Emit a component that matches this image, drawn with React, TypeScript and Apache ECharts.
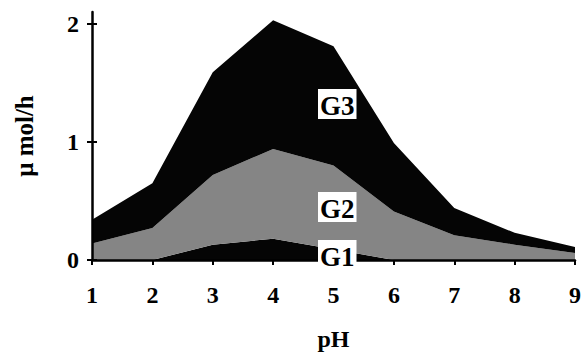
import React, { useEffect, useRef } from "react";
import * as echarts from "echarts";

const phValues = ["1", "2", "3", "4", "5", "6", "7", "8", "9"];
const g1 = [0, 0, 0.13, 0.18, 0.09, 0, 0, 0, 0];
const g2 = [0.14, 0.27, 0.59, 0.76, 0.71, 0.41, 0.21, 0.13, 0.06];
const g3 = [0.2, 0.38, 0.87, 1.09, 1.01, 0.58, 0.23, 0.1, 0.05];
const yTicks = [0, 1, 2];
const seriesNames = ["G1", "G2", "G3"];

const FONT = "Liberation Serif";

export default function App() {
  const ref = useRef<HTMLDivElement>(null);
  useEffect(() => {
    if (!ref.current) return;
    const chart = echarts.init(ref.current, undefined, { renderer: "svg" });
    const colors = ["#050505", "#858585", "#050505"];
    const data = [g1, g2, g3];
    const labelStyle = (text: string, x: number, y: number) => ({
      type: "text",
      left: x,
      top: y,
      z: 100,
      style: {
        text,
        fill: "#000",
        fontFamily: FONT,
        fontWeight: "bold",
        fontSize: 27,
        backgroundColor: "#fff",
        padding: [3, 2, 0, 2],
      },
    });
    const txt = { fontFamily: FONT, fontWeight: "bold" as const, color: "#000" };
    chart.setOption({
      animation: false,
      backgroundColor: "#fff",
      grid: { left: 92, right: 8, top: 12, bottom: 92, outerBoundsMode: "none", containLabel: false },
      xAxis: {
        type: "category",
        data: phValues,
        boundaryGap: false,
        name: "pH",
        nameLocation: "middle",
        nameGap: 67,
        nameTextStyle: { ...txt, fontSize: 24 },
        axisLine: { lineStyle: { color: "#000", width: 2.5 } },
        axisTick: { show: true, length: 5, alignWithLabel: true, lineStyle: { color: "#000", width: 2 } },
        axisLabel: { ...txt, fontSize: 24, margin: 23 },
        splitLine: { show: false },
        z: 10,
      },
      yAxis: [
        {
          type: "value",
          min: 0,
          max: 2.1,
          interval: 1,
          name: "\u03bc mol/h",
          nameLocation: "middle",
          nameRotate: 90,
          nameGap: 55,
          nameTextStyle: { ...txt, fontSize: 25 },
          axisLine: { show: true, lineStyle: { color: "#000", width: 2.5 } },
          axisTick: { show: true, length: 5, customValues: yTicks, lineStyle: { color: "#000", width: 2 } },
          axisLabel: { ...txt, fontSize: 24, margin: 13, customValues: yTicks },
          splitLine: { show: false },
          z: 10,
        },
        {
          type: "value",
          min: 0,
          max: 2.1,
          interval: 1,
          position: "left",
          axisLine: { show: false },
          axisTick: { show: true, inside: true, length: 5, customValues: yTicks, lineStyle: { color: "#000", width: 2 } },
          axisLabel: { show: false },
          splitLine: { show: false },
          z: 10,
        },
      ],
      series: seriesNames.map((name, i) => ({
        name,
        type: "line",
        stack: "total",
        data: data[i],
        symbol: "none",
        lineStyle: { width: 0 },
        areaStyle: { color: colors[i], opacity: 1 },
        z: 2,
      })),
      graphic: [
        labelStyle("G3", 318, 89),
        labelStyle("G2", 318, 192),
        labelStyle("G1", 318, 240),
      ],
    });
    return () => chart.dispose();
  }, []);
  return (
    <div
      ref={ref}
      style={{ position: "absolute", left: 0, top: 0, width: 583, height: 352 }}
    />
  );
}
